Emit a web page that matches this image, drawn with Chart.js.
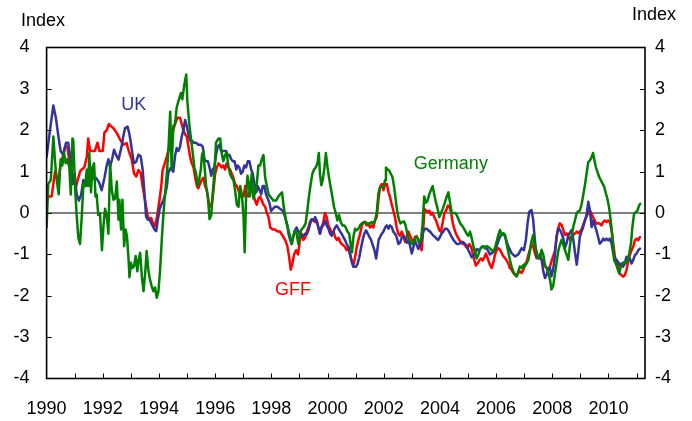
<!DOCTYPE html>
<html>
<head>
<meta charset="utf-8">
<script src="https://cdn.jsdelivr.net/npm/chart.js@4.4.1/dist/chart.umd.min.js"></script>
<style>
    body { margin: 0; background: #fff; }
</style>
</head>
<body>
<canvas id="myChart" width="692" height="421"></canvas>
<script>
// UK index (decimal year / value)
const ukYears = [
    1990.00, 1990.12, 1990.24, 1990.33, 1990.42, 1990.50, 1990.60, 1990.69, 1990.77, 1990.86,
    1990.93, 1991.00, 1991.07, 1991.15, 1991.23, 1991.31, 1991.39, 1991.48, 1991.57, 1991.66,
    1991.76, 1991.86, 1991.96, 1992.06, 1992.14, 1992.20, 1992.26, 1992.33, 1992.40, 1992.47,
    1992.56, 1992.67, 1992.73, 1992.79, 1992.88, 1992.94, 1993.00, 1993.05, 1993.11, 1993.19,
    1993.27, 1993.35, 1993.42, 1993.48, 1993.54, 1993.60, 1993.66, 1993.72, 1993.78, 1993.84,
    1993.90, 1993.96, 1994.02, 1994.08, 1994.16, 1994.22, 1994.28, 1994.33, 1994.40, 1994.45,
    1994.51, 1994.57, 1994.63, 1994.69, 1994.75, 1994.81, 1994.87, 1994.93, 1994.99, 1995.05,
    1995.11, 1995.17, 1995.23, 1995.32, 1995.40, 1995.49, 1995.56, 1995.62, 1995.68, 1995.74,
    1995.80, 1995.86, 1995.91, 1995.97, 1996.03, 1996.09, 1996.15, 1996.21, 1996.27, 1996.33,
    1996.39, 1996.45, 1996.51, 1996.57, 1996.63, 1996.69, 1996.75, 1996.80, 1996.86, 1996.92,
    1996.98, 1997.04, 1997.10, 1997.16, 1997.22, 1997.28, 1997.34, 1997.40, 1997.46, 1997.52,
    1997.58, 1997.64, 1997.69, 1997.75, 1997.81, 1997.87, 1997.93, 1997.99, 1998.05, 1998.13,
    1998.22, 1998.31, 1998.41, 1998.49, 1998.57, 1998.61, 1998.67, 1998.72, 1998.78, 1998.84,
    1998.90, 1998.96, 1999.02, 1999.08, 1999.14, 1999.20, 1999.26, 1999.32, 1999.38, 1999.44,
    1999.50, 1999.56, 1999.62, 1999.67, 1999.73, 1999.79, 1999.85, 1999.91, 1999.97, 2000.03,
    2000.09, 2000.15, 2000.21, 2000.27, 2000.33, 2000.39, 2000.45, 2000.50, 2000.56, 2000.62,
    2000.68, 2000.74, 2000.80, 2000.86, 2000.92, 2001.01, 2001.07, 2001.13, 2001.19, 2001.25,
    2001.31, 2001.37, 2001.43, 2001.49, 2001.55, 2001.61, 2001.67, 2001.73, 2001.77, 2001.82,
    2001.87, 2001.93, 2001.99, 2002.05, 2002.11, 2002.17, 2002.22, 2002.28, 2002.34, 2002.40,
    2002.46, 2002.52, 2002.58, 2002.64, 2002.70, 2002.76, 2002.82, 2002.88, 2002.94, 2003.00,
    2003.06, 2003.11, 2003.17, 2003.23, 2003.29, 2003.35, 2003.41, 2003.47, 2003.53, 2003.59,
    2003.65, 2003.71, 2003.77, 2003.83, 2003.88, 2003.94, 2004.00, 2004.06, 2004.12, 2004.18,
    2004.24, 2004.30, 2004.36, 2004.42, 2004.48, 2004.54, 2004.60, 2004.66, 2004.72, 2004.77,
    2004.83, 2004.89, 2004.95, 2005.01, 2005.07, 2005.13, 2005.19, 2005.25, 2005.31, 2005.37,
    2005.43, 2005.49, 2005.55, 2005.60, 2005.66, 2005.72, 2005.78, 2005.90, 2006.02, 2006.14,
    2006.26, 2006.32, 2006.43, 2006.55, 2006.67, 2006.79, 2006.91, 2006.99, 2007.06, 2007.12,
    2007.18, 2007.26, 2007.32, 2007.38, 2007.44, 2007.50, 2007.56, 2007.62, 2007.68, 2007.74,
    2007.80, 2007.86, 2007.92, 2007.97, 2008.03, 2008.09, 2008.15, 2008.21, 2008.27, 2008.33,
    2008.39, 2008.45, 2008.51, 2008.57, 2008.63, 2008.69, 2008.75, 2008.81, 2008.87, 2008.92,
    2008.98, 2009.04, 2009.10, 2009.16, 2009.22, 2009.28, 2009.34, 2009.40, 2009.45, 2009.51,
    2009.57, 2009.63, 2009.69, 2009.75, 2009.81, 2009.87, 2009.93, 2009.99, 2010.05, 2010.11,
    2010.17, 2010.23, 2010.29, 2010.34, 2010.40, 2010.46, 2010.52, 2010.58, 2010.64, 2010.70,
    2010.76, 2010.82, 2010.88, 2010.94, 2011.00, 2011.06, 2011.12
];
const ukValues = [
    1.35, 2.0, 2.6, 2.3, 1.85, 1.5, 1.4, 1.7, 1.7, 1.25,
    0.7, 0.95, 0.45, 0.3, 0.45, 0.8, 0.65, 0.85, 0.75, 0.85,
    0.85, 0.75, 0.55, 0.85, 1.15, 1.3, 1.12, 1.3, 1.53, 1.41,
    1.29, 1.61, 1.85, 2.05, 2.09, 1.93, 1.69, 1.45, 1.2, 1.24,
    1.41, 1.37, 1.04, 0.52, -0.08, -0.16, -0.16, -0.24, -0.32, -0.4,
    -0.44, -0.16, 0.08, 0.2, 0.32, 0.45, 0.64, 0.96, 1.08, 1.05,
    1.0, 1.37, 1.57, 1.5, 1.6, 1.85, 2.0, 2.25, 2.1, 1.9,
    1.75, 1.75, 1.7, 1.7, 1.65, 1.65, 1.6, 1.3, 1.25, 1.25,
    1.1, 0.9, 1.05, 1.1, 1.4, 1.6, 1.65, 1.5, 1.5, 1.5,
    1.5, 1.4, 1.4, 1.3, 1.25, 1.25, 1.05, 1.15, 1.1, 0.95,
    1.0, 1.15, 1.1, 1.25, 1.25, 1.05, 0.95, 0.7, 0.5, 0.65,
    0.55, 0.45, 0.65, 0.65, 0.45, 0.35, 0.25, 0.05, 0.1, 0.15,
    0.15, 0.1, 0.05, -0.1, -0.3, -0.5, -0.65, -0.75, -0.58, -0.42,
    -0.35, -0.45, -0.52, -0.55, -0.55, -0.5, -0.52, -0.42, -0.26, -0.15,
    -0.18, -0.1, -0.22, -0.33, -0.5, -0.33, -0.3, -0.18, -0.3, -0.38,
    -0.5, -0.55, -0.45, -0.35, -0.3, -0.38, -0.45, -0.5, -0.58, -0.65,
    -0.75, -0.82, -0.98, -1.18, -1.3, -1.3, -1.23, -1.07, -0.85, -0.65,
    -0.5, -0.42, -0.5, -0.58, -0.65, -0.78, -0.9, -1.1, -0.9, -0.65,
    -0.58, -0.5, -0.45, -0.35, -0.3, -0.38, -0.3, -0.33, -0.45, -0.5,
    -0.58, -0.75, -0.72, -0.6, -0.55, -0.62, -0.72, -0.65, -0.8, -0.98,
    -0.82, -0.65, -0.77, -0.87, -0.75, -0.65, -0.45, -0.38, -0.38, -0.42,
    -0.45, -0.5, -0.55, -0.58, -0.62, -0.65, -0.58, -0.5, -0.45, -0.38,
    -0.38, -0.42, -0.5, -0.58, -0.65, -0.7, -0.75, -0.75, -0.73, -0.7,
    -0.7, -0.75, -0.78, -0.9, -0.98, -1.07, -1.03, -0.98, -0.87, -0.9,
    -0.87, -0.82, -0.82, -0.85, -0.85, -0.92, -1.0, -0.95, -0.8, -0.57,
    -0.49, -0.57, -0.8, -0.97, -1.05, -1.0, -0.85, -0.9, -0.65, -0.25,
    0.03, 0.07, -0.17, -0.65, -1.05, -1.1, -1.0, -1.13, -1.41, -1.57,
    -1.49, -1.33, -1.33, -1.53, -1.37, -1.05, -0.57, -0.37, -0.41, -0.49,
    -0.61, -0.85, -0.73, -0.53, -0.47, -0.41, -0.65, -0.97, -1.25, -0.97,
    -0.57, -0.45, -0.34, -0.18, -0.05, 0.27, 0.06, -0.34, -0.18, -0.3,
    -0.42, -0.58, -0.74, -0.7, -0.62, -0.66, -0.62, -0.66, -0.62, -0.74,
    -0.98, -1.1, -1.14, -1.18, -1.26, -1.22, -1.3, -1.22, -1.06, -1.1,
    -1.1, -1.22, -1.14, -1.02, -0.98, -0.9, -0.86
];

// GFF index
const gffYears = [
    1990.00, 1990.10, 1990.18, 1990.24, 1990.30, 1990.36, 1990.42, 1990.48, 1990.54, 1990.60,
    1990.65, 1990.74, 1990.81, 1990.89, 1990.95, 1991.05, 1991.11, 1991.19, 1991.25, 1991.34,
    1991.43, 1991.48, 1991.55, 1991.64, 1991.72, 1991.81, 1991.88, 1991.94, 1992.00, 1992.06,
    1992.14, 1992.22, 1992.29, 1992.38, 1992.50, 1992.62, 1992.73, 1992.85, 1992.91, 1993.03,
    1993.11, 1993.19, 1993.27, 1993.35, 1993.42, 1993.48, 1993.54, 1993.60, 1993.66, 1993.72,
    1993.78, 1993.84, 1993.90, 1993.96, 1994.02, 1994.08, 1994.13, 1994.19, 1994.28, 1994.37,
    1994.45, 1994.51, 1994.57, 1994.66, 1994.75, 1994.81, 1994.87, 1994.93, 1994.99, 1995.05,
    1995.11, 1995.17, 1995.23, 1995.29, 1995.35, 1995.40, 1995.46, 1995.52, 1995.58, 1995.64,
    1995.70, 1995.76, 1995.82, 1995.88, 1995.94, 1996.00, 1996.06, 1996.12, 1996.18, 1996.23,
    1996.29, 1996.35, 1996.41, 1996.47, 1996.53, 1996.59, 1996.65, 1996.71, 1996.77, 1996.83,
    1996.89, 1996.95, 1997.01, 1997.07, 1997.12, 1997.18, 1997.24, 1997.30, 1997.36, 1997.42,
    1997.48, 1997.54, 1997.60, 1997.66, 1997.72, 1997.78, 1997.84, 1997.90, 1997.96, 1998.05,
    1998.13, 1998.22, 1998.31, 1998.40, 1998.49, 1998.57, 1998.63, 1998.69, 1998.75, 1998.81,
    1998.88, 1998.95, 1999.02, 1999.08, 1999.14, 1999.20, 1999.26, 1999.32, 1999.38, 1999.44,
    1999.50, 1999.56, 1999.62, 1999.67, 1999.73, 1999.79, 1999.85, 1999.91, 1999.97, 2000.03,
    2000.09, 2000.15, 2000.21, 2000.27, 2000.33, 2000.39, 2000.45, 2000.50, 2000.56, 2000.62,
    2000.68, 2000.74, 2000.80, 2000.86, 2000.92, 2000.98, 2001.04, 2001.10, 2001.16, 2001.22,
    2001.28, 2001.34, 2001.39, 2001.45, 2001.51, 2001.57, 2001.63, 2001.69, 2001.75, 2001.81,
    2001.87, 2001.93, 2001.99, 2002.05, 2002.11, 2002.17, 2002.22, 2002.28, 2002.34, 2002.40,
    2002.46, 2002.52, 2002.58, 2002.64, 2002.70, 2002.76, 2002.82, 2002.88, 2002.94, 2003.00,
    2003.06, 2003.11, 2003.17, 2003.23, 2003.29, 2003.35, 2003.41, 2003.45, 2003.51, 2003.57,
    2003.62, 2003.68, 2003.74, 2003.80, 2003.86, 2003.92, 2003.98, 2004.04, 2004.10, 2004.16,
    2004.22, 2004.28, 2004.34, 2004.40, 2004.45, 2004.51, 2004.57, 2004.63, 2004.69, 2004.75,
    2004.81, 2004.87, 2004.93, 2004.99, 2005.05, 2005.11, 2005.17, 2005.23, 2005.28, 2005.34,
    2005.40, 2005.46, 2005.52, 2005.58, 2005.64, 2005.70, 2005.78, 2005.84, 2005.90, 2005.96,
    2006.02, 2006.08, 2006.14, 2006.20, 2006.26, 2006.32, 2006.43, 2006.49, 2006.55, 2006.61,
    2006.67, 2006.73, 2006.79, 2006.85, 2006.91, 2006.97, 2007.02, 2007.09, 2007.15, 2007.20,
    2007.26, 2007.32, 2007.38, 2007.44, 2007.50, 2007.56, 2007.62, 2007.68, 2007.74, 2007.80,
    2007.86, 2007.92, 2007.97, 2008.03, 2008.09, 2008.15, 2008.21, 2008.27, 2008.33, 2008.39,
    2008.45, 2008.51, 2008.57, 2008.63, 2008.69, 2008.75, 2008.81, 2008.87, 2008.92, 2008.98,
    2009.04, 2009.10, 2009.16, 2009.22, 2009.28, 2009.34, 2009.40, 2009.45, 2009.51, 2009.57,
    2009.63, 2009.69, 2009.75, 2009.81, 2009.87, 2009.93, 2009.99, 2010.05, 2010.11, 2010.17,
    2010.23, 2010.29, 2010.34, 2010.40, 2010.46, 2010.52, 2010.58, 2010.64, 2010.70, 2010.76,
    2010.82, 2010.88, 2010.94, 2011.00, 2011.06, 2011.12
];
const gffValues = [
    0.45, 0.4, 0.4, 0.7, 1.0, 0.85, 0.8, 1.1, 1.25, 1.45,
    1.6, 1.6, 1.25, 0.95, 0.8, 0.65, 0.8, 1.0, 1.05, 1.1,
    1.35, 1.8, 1.5, 1.5, 1.5, 1.7, 1.5, 1.5, 1.5, 1.95,
    2.0, 2.15, 2.1, 2.05, 1.93, 1.77, 1.65, 1.69, 1.53, 1.29,
    0.96, 0.88, 1.04, 0.96, 0.64, 0.4, 0.16, -0.08, -0.16, -0.12,
    -0.24, -0.32, -0.2, 0.04, 0.32, 0.64, 1.04, 1.16, 1.37, 1.61,
    1.85, 2.0, 2.15, 2.3, 2.3, 2.15, 2.0, 1.9, 1.85, 1.6,
    1.35, 1.2, 1.1, 0.85, 0.65, 0.6, 0.7, 0.8, 0.85, 0.65,
    0.55, 0.3, 0.15, 0.2, 0.55, 0.95, 1.1, 1.2, 1.15, 1.1,
    1.15, 1.05, 1.2, 1.1, 1.05, 0.95, 0.85, 0.7, 0.65, 0.55,
    0.4, 0.45, 0.4, 0.65, 0.45, 0.4, 0.55, 0.6, 0.45, 0.3,
    0.2, 0.35, 0.4, 0.3, 0.2, 0.15, 0.0, -0.1, -0.35, -0.4,
    -0.4, -0.45, -0.45, -0.55, -0.65, -0.8, -1.05, -1.37, -1.22, -1.0,
    -0.9, -1.0, -0.65, -0.5, -0.65, -0.6, -0.45, -0.35, -0.2, -0.15,
    -0.18, -0.22, -0.18, -0.35, -0.5, -0.35, -0.22, 0.0, -0.1, -0.3,
    -0.38, -0.5, -0.45, -0.58, -0.65, -0.6, -0.7, -0.75, -0.78, -0.82,
    -0.9, -0.82, -1.0, -1.15, -1.27, -1.07, -0.82, -0.65, -0.5, -0.3,
    -0.22, -0.22, -0.3, -0.25, -0.35, -0.3, -0.35, -0.18, -0.1, 0.3,
    0.63, 0.7, 0.55, 0.7, 0.7, 0.5, 0.4, 0.22, 0.06, -0.1,
    -0.35, -0.5, -0.55, -0.45, -0.55, -0.7, -0.55, -0.45, -0.55, -0.65,
    -0.7, -0.58, -0.56, -0.65, -0.78, -0.9, -0.35, 0.1, 0.06, 0.02,
    0.06, -0.04, 0.0, -0.1, -0.18, -0.3, -0.42, -0.45, -0.22, 0.0,
    0.06, 0.18, 0.15, 0.0, -0.22, -0.38, -0.5, -0.58, -0.65, -0.7,
    -0.75, -0.75, -0.82, -0.85, -0.75, -0.82, -0.98, -1.15, -1.27, -1.22,
    -1.15, -1.1, -1.15, -1.07, -0.98, -1.1, -1.25, -1.33, -1.2, -1.01,
    -0.89, -0.85, -0.89, -0.97, -1.05, -1.09, -1.21, -1.33, -1.37, -1.45,
    -1.49, -1.53, -1.45, -1.41, -1.45, -1.37, -1.25, -1.17, -1.01, -0.89,
    -0.73, -0.81, -0.97, -1.09, -1.05, -1.09, -1.13, -1.21, -1.29, -1.33,
    -1.37, -1.29, -1.17, -1.05, -0.93, -0.61, -0.37, -0.25, -0.29, -0.41,
    -0.53, -0.49, -0.57, -0.65, -0.57, -0.53, -0.49, -0.45, -0.49, -0.45,
    -0.4, -0.28, -0.18, -0.08, 0.0, 0.06, -0.02, -0.1, -0.18, -0.26,
    -0.24, -0.26, -0.3, -0.22, -0.18, -0.22, -0.18, -0.22, -0.42, -0.74,
    -1.06, -1.18, -1.26, -1.46, -1.5, -1.54, -1.5, -1.38, -1.18, -1.02,
    -0.9, -0.82, -0.66, -0.62, -0.66, -0.58
];

// Germany index
const deYears = [
    1990.00, 1990.06, 1990.15, 1990.24, 1990.30, 1990.36, 1990.43, 1990.50, 1990.56, 1990.62,
    1990.68, 1990.74, 1990.81, 1990.86, 1990.92, 1990.95, 1991.01, 1991.07, 1991.13, 1991.19,
    1991.25, 1991.31, 1991.37, 1991.43, 1991.48, 1991.52, 1991.58, 1991.63, 1991.69, 1991.74,
    1991.78, 1991.84, 1991.90, 1991.97, 1992.02, 1992.08, 1992.14, 1992.20, 1992.26, 1992.32,
    1992.38, 1992.44, 1992.50, 1992.56, 1992.59, 1992.65, 1992.70, 1992.76, 1992.81, 1992.86,
    1992.91, 1992.95, 1993.00, 1993.05, 1993.11, 1993.17, 1993.23, 1993.28, 1993.33, 1993.39,
    1993.45, 1993.51, 1993.56, 1993.62, 1993.68, 1993.74, 1993.80, 1993.86, 1993.92, 1993.98,
    1994.04, 1994.10, 1994.16, 1994.22, 1994.28, 1994.33, 1994.40, 1994.45, 1994.51, 1994.57,
    1994.63, 1994.69, 1994.78, 1994.83, 1994.89, 1994.97, 1995.01, 1995.08, 1995.13, 1995.20,
    1995.26, 1995.32, 1995.38, 1995.44, 1995.49, 1995.53, 1995.58, 1995.63, 1995.68, 1995.74,
    1995.80, 1995.86, 1995.91, 1995.97, 1996.03, 1996.12, 1996.18, 1996.23, 1996.29, 1996.35,
    1996.41, 1996.47, 1996.53, 1996.59, 1996.65, 1996.71, 1996.77, 1996.83, 1996.89, 1996.95,
    1997.01, 1997.05, 1997.10, 1997.15, 1997.20, 1997.24, 1997.30, 1997.36, 1997.42, 1997.48,
    1997.54, 1997.60, 1997.66, 1997.72, 1997.78, 1997.84, 1997.90, 1997.96, 1998.07, 1998.17,
    1998.25, 1998.31, 1998.38, 1998.44, 1998.52, 1998.61, 1998.67, 1998.73, 1998.78, 1998.84,
    1998.90, 1998.96, 1999.00, 1999.05, 1999.10, 1999.16, 1999.22, 1999.28, 1999.34, 1999.40,
    1999.46, 1999.52, 1999.58, 1999.64, 1999.69, 1999.73, 1999.78, 1999.83, 1999.89, 1999.94,
    2000.00, 2000.05, 2000.11, 2000.17, 2000.23, 2000.29, 2000.35, 2000.41, 2000.47, 2000.53,
    2000.59, 2000.65, 2000.71, 2000.77, 2000.82, 2000.87, 2000.92, 2000.98, 2001.04, 2001.10,
    2001.16, 2001.22, 2001.28, 2001.34, 2001.40, 2001.45, 2001.51, 2001.57, 2001.63, 2001.69,
    2001.75, 2001.81, 2001.87, 2001.93, 2001.99, 2002.05, 2002.08, 2002.13, 2002.19, 2002.25,
    2002.31, 2002.37, 2002.43, 2002.49, 2002.55, 2002.60, 2002.66, 2002.72, 2002.78, 2002.84,
    2002.90, 2002.96, 2003.02, 2003.08, 2003.14, 2003.20, 2003.26, 2003.32, 2003.38, 2003.44,
    2003.50, 2003.56, 2003.62, 2003.68, 2003.74, 2003.80, 2003.86, 2003.92, 2003.98, 2004.04,
    2004.10, 2004.16, 2004.22, 2004.30, 2004.36, 2004.42, 2004.48, 2004.54, 2004.60, 2004.66,
    2004.72, 2004.78, 2004.83, 2004.89, 2004.95, 2005.01, 2005.07, 2005.13, 2005.19, 2005.25,
    2005.31, 2005.37, 2005.43, 2005.49, 2005.55, 2005.60, 2005.66, 2005.72, 2005.78, 2005.84,
    2005.90, 2005.96, 2006.02, 2006.08, 2006.14, 2006.20, 2006.26, 2006.32, 2006.37, 2006.43,
    2006.49, 2006.55, 2006.61, 2006.67, 2006.73, 2006.79, 2006.85, 2006.91, 2006.97, 2007.02,
    2007.09, 2007.15, 2007.20, 2007.26, 2007.32, 2007.36, 2007.42, 2007.50, 2007.56, 2007.62,
    2007.68, 2007.74, 2007.80, 2007.86, 2007.92, 2007.97, 2008.03, 2008.09, 2008.15, 2008.21,
    2008.27, 2008.33, 2008.39, 2008.45, 2008.51, 2008.57, 2008.63, 2008.69, 2008.75, 2008.81,
    2008.87, 2008.92, 2008.98, 2009.04, 2009.10, 2009.16, 2009.22, 2009.28, 2009.34, 2009.40,
    2009.45, 2009.49, 2009.55, 2009.61, 2009.67, 2009.73, 2009.79, 2009.85, 2009.91, 2009.96,
    2010.02, 2010.08, 2010.14, 2010.20, 2010.26, 2010.32, 2010.38, 2010.44, 2010.50, 2010.56,
    2010.62, 2010.68, 2010.74, 2010.80, 2010.85, 2010.91, 2010.97, 2011.03, 2011.09, 2011.13
];
const deValues = [
    -0.35, 0.7, 0.8, 1.85, 1.25, 0.8, 0.45, 1.3, 1.15, 1.45,
    1.2, 1.3, 1.1, 0.45, 1.8, 1.75, 0.65, -0.05, -0.6, -0.75,
    -0.1, 0.7, 0.65, 1.05, 0.65, 1.45, 0.5, 1.1, 1.2, 0.4,
    0.45, -0.05, 0.0, -0.9, -0.35, 0.1, -0.05, -0.5, 1.2, 0.56,
    0.32, 0.35, 0.76, -0.16, 0.32, -0.4, 0.32, -0.8, -0.4, -0.55,
    -1.04, -1.55, -1.2, -1.33, -1.29, -1.04, -1.41, -1.12, -0.96, -1.53,
    -1.89, -1.45, -0.92, -1.37, -1.61, -1.77, -1.89, -1.8, -2.05, -1.9,
    -1.37, -0.64, 0.0, 0.48, 0.96, 1.45, 2.45, 1.05, 2.1, 2.15,
    2.55, 2.7, 2.9, 2.75, 3.05, 3.35, 2.7, 2.15, 1.85, 1.45,
    1.1, 0.95, 0.65, 0.85, 1.05, 1.4, 1.5, 1.05, 0.65, 0.4,
    -0.15, -0.05, 0.45, 0.95, 1.7, 1.8, 1.8, 1.45, 1.25, 1.4,
    1.45, 1.15, 0.95, 0.85, 0.8, 0.55, 0.2, 0.15, 0.65, 0.45,
    -0.1, -0.95, 0.4, 0.9, 0.7, 0.4, 0.95, 0.35, 0.5, 0.7,
    1.15, 1.15, 1.3, 1.4, 0.85, 0.65, 0.45, 0.4, 0.3, 0.3,
    0.4, 0.45, 0.5, 0.15, -0.18, -0.42, -0.58, -0.75, -0.55, -0.42,
    -0.5, -0.75, -0.58, -0.42, -0.38, -0.33, -0.25, 0.06, 0.4, 0.7,
    0.95, 1.05, 1.1, 1.2, 1.45, 0.95, 0.67, 0.8, 1.1, 1.45,
    1.1, 0.87, 0.63, 0.4, 0.15, 0.0, -0.18, -0.05, -0.22, -0.3,
    -0.3, -0.35, -0.45, -0.5, -0.75, -0.95, -0.58, -0.38, -0.42, -0.38,
    -0.3, -0.25, -0.25, -0.22, -0.25, -0.28, -0.25, -0.22, -0.25, -0.18,
    0.0, 0.47, 0.63, 0.63, 0.63, 0.8, 1.1, 1.06, 1.03, 0.95,
    0.87, 0.63, 0.3, 0.0, -0.18, -0.25, -0.22, -0.2, -0.3, -0.5,
    -0.65, -0.7, -0.75, -0.68, -0.58, -0.6, -0.7, -0.68, -0.3, 0.4,
    0.25, 0.3, 0.45, 0.55, 0.65, 0.45, 0.25, 0.1, -0.1, 0.0,
    0.1, 0.22, 0.35, 0.5, 0.25, 0.0, 0.0, 0.0, -0.05, -0.15,
    -0.25, -0.3, -0.35, -0.42, -0.5, -0.55, -0.45, -0.6, -0.8, -0.95,
    -1.1, -1.0, -0.87, -0.82, -0.8, -0.85, -0.8, -0.82, -0.85, -0.9,
    -0.93, -0.85, -0.69, -0.53, -0.41, -0.53, -0.49, -0.53, -0.73, -0.93,
    -1.13, -1.29, -1.41, -1.49, -1.53, -1.41, -1.29, -1.33, -1.25, -1.29,
    -1.21, -1.13, -0.93, -0.69, -0.53, -0.73, -0.89, -1.09, -1.09, -0.89,
    -1.01, -1.25, -1.33, -1.45, -1.61, -1.85, -1.77, -1.49, -1.21, -0.93,
    -0.77, -0.65, -0.77, -0.89, -1.01, -1.13, -0.77, -0.53, -0.33, -0.17,
    0.0, 0.04, 0.06, 0.2, 0.43, 0.67, 0.95, 1.23, 1.27, 1.35,
    1.45, 1.31, 1.11, 0.99, 0.87, 0.79, 0.71, 0.63, 0.47, 0.35,
    0.14, -0.18, -0.58, -1.14, -1.22, -1.34, -1.46, -1.3, -1.22, -1.18,
    -1.22, -1.14, -0.98, -0.74, -0.34, -0.02, 0.02, 0.06, 0.18, 0.22
];

// Axis settings
const xMin = 1990;
const xMax = 2011.3;
const yMin = -4;
const yMax = 4;

// Series labels placed inside the plot, in data units
const seriesLabels = [
    { text: 'UK', x: 1993.1, y: 2.6, color: '#333399' },
    { text: 'GFF', x: 1998.77, y: -1.87, color: '#ff0000' },
    { text: 'Germany', x: 2004.39, y: 1.18, color: '#008000' }
];

const FONT = '"Liberation Sans", Arial, Helvetica, sans-serif';

function toPoints(xs, ys) {
    return xs.map((x, i) => ({ x: x, y: ys[i] }));
}

// Frame, inward tick marks, zero line, text labels
const decorations = {
    id: 'decorations',
    beforeDatasetsDraw(chart) {
        const { ctx, chartArea: a, scales } = chart;
        const y0 = scales.y.getPixelForValue(0);
        ctx.save();
        ctx.strokeStyle = '#555555';
        ctx.lineWidth = 1.5;
        ctx.beginPath();
        ctx.moveTo(a.left, y0);
        ctx.lineTo(a.right, y0);
        ctx.stroke();
        ctx.restore();
    },
    afterDraw(chart) {
        const { ctx, chartArea: a, scales } = chart;
        ctx.save();
        ctx.strokeStyle = '#000000';
        ctx.lineWidth = 1.6;
        ctx.strokeRect(a.left, a.top, a.right - a.left, a.bottom - a.top);

        ctx.lineWidth = 1;
        ctx.beginPath();
        for (let v = yMin + 1; v < yMax; v++) {
            const py = Math.round(scales.y.getPixelForValue(v)) + 0.5;
            ctx.moveTo(a.left, py);
            ctx.lineTo(a.left + 5, py);
            ctx.moveTo(a.right - 5, py);
            ctx.lineTo(a.right, py);
        }
        for (let yr = 1991; yr <= 2011; yr++) {
            const px = Math.round(scales.x.getPixelForValue(yr)) + 0.5;
            ctx.moveTo(px, a.bottom);
            ctx.lineTo(px, a.bottom - 5);
        }
        ctx.stroke();

        ctx.font = '18px ' + FONT;
        ctx.textBaseline = 'alphabetic';
        ctx.fillStyle = '#000000';
        ctx.textAlign = 'left';
        ctx.fillText('Index', 21, 26);
        ctx.textAlign = 'right';
        ctx.fillText('Index', 676, 20);

        ctx.textAlign = 'center';
        ctx.textBaseline = 'middle';
        seriesLabels.forEach(l => {
            ctx.fillStyle = l.color;
            ctx.fillText(l.text, scales.x.getPixelForValue(l.x), scales.y.getPixelForValue(l.y));
        });
        ctx.restore();
    }
};

let myChart;

function createChart() {
    const ctx = document.getElementById('myChart').getContext('2d');

    const data = {
        datasets: [
            {
                label: 'Germany',
                data: toPoints(deYears, deValues),
                borderColor: '#008000',
                borderWidth: 2.5
            },
            {
                label: 'UK',
                data: toPoints(ukYears, ukValues),
                borderColor: '#333399',
                borderWidth: 2.5
            },
            {
                label: 'GFF',
                data: toPoints(gffYears, gffValues),
                borderColor: '#ff0000',
                borderWidth: 2.5
            }
        ]
    };

    const tickFont = { family: FONT, size: 18 };

    const options = {
        responsive: false,
        animation: false,
        maintainAspectRatio: false,
        layout: { padding: { top: 47.5, right: 0, bottom: 0, left: 0 } },
        elements: {
            point: { radius: 0 },
            line: { tension: 0, borderJoinStyle: 'round', borderCapStyle: 'round' }
        },
        plugins: {
            legend: { display: false },
            tooltip: { enabled: false }
        },
        scales: {
            x: {
                type: 'linear',
                position: 'bottom',
                min: xMin,
                max: xMax,
                afterFit: s => { s.height = 42.5; },
                grid: { display: false, drawTicks: false },
                border: { display: false },
                ticks: {
                    stepSize: 1,
                    includeBounds: false,
                    autoSkip: false,
                    maxRotation: 0,
                    padding: 20,
                    color: '#000000',
                    font: tickFont,
                    callback: v => (v % 2 === 0 ? String(v) : '')
                }
            },
            y: {
                position: 'left',
                min: yMin,
                max: yMax,
                afterFit: s => { s.width = 46.6; },
                grid: { display: false, drawTicks: false },
                border: { display: false },
                ticks: { stepSize: 1, padding: 17, color: '#000000', font: tickFont }
            },
            y2: {
                position: 'right',
                min: yMin,
                max: yMax,
                afterFit: s => { s.width = 47; },
                grid: { display: false, drawTicks: false },
                border: { display: false },
                ticks: { stepSize: 1, padding: 10, color: '#000000', font: tickFont }
            }
        }
    };

    myChart = new Chart(ctx, {
        type: 'line',
        data: data,
        options: options,
        plugins: [decorations]
    });
}

createChart();
</script>
</body>
</html>
